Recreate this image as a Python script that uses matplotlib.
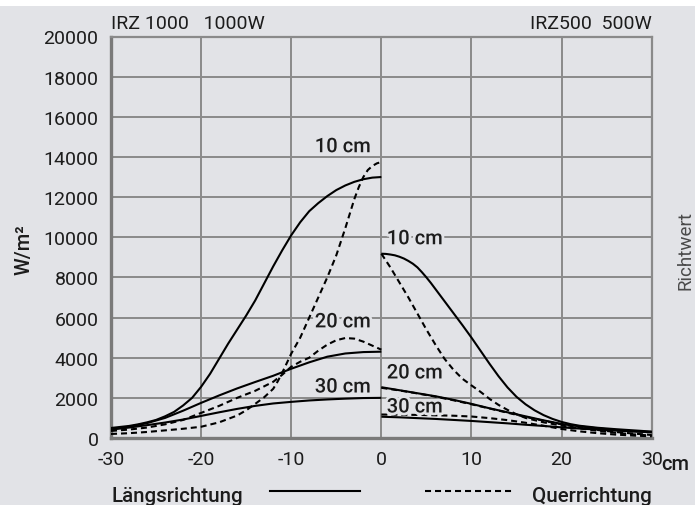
import matplotlib
matplotlib.use("Agg")
import matplotlib.pyplot as plt
import matplotlib.patheffects as pe
from matplotlib.lines import Line2D
from matplotlib.patches import Rectangle

# ---------------- data ----------------
# left half: IRZ 1000 (x from -30 to 0)
x_l10_s = [-30, -28, -27, -26, -25, -24, -23, -22, -21, -20, -19, -18, -17, -16, -15, -14, -13, -12, -11, -10, -9, -8, -7, -6, -5, -4, -3, -2, -1, 0]
y_l10_s = [500, 600, 680, 780, 900, 1080, 1300, 1620, 2000, 2550, 3200, 3950, 4700, 5400, 6100, 6850, 7700, 8550, 9350, 10100, 10750, 11300, 11700, 12050, 12350, 12580, 12760, 12890, 12970, 13000]

x_l10_d = [-30, -28, -26, -24, -22, -20, -18, -16, -15, -14, -13, -12, -11.5, -11, -10, -9, -8, -7, -6, -5, -4, -3, -2.5, -2, -1.5, -1, -0.5, 0]
y_l10_d = [200, 240, 300, 380, 460, 560, 780, 1120, 1380, 1700, 2030, 2450, 2820, 3250, 4200, 5000, 6000, 7000, 8000, 9100, 10450, 11900, 12500, 13000, 13350, 13550, 13680, 13750]

x_l20_s = [-30, -28, -26, -24, -22, -20, -18, -16, -14, -12, -10, -8, -6, -4, -2, 0]
y_l20_s = [450, 560, 740, 1000, 1360, 1750, 2120, 2470, 2790, 3100, 3450, 3770, 4050, 4210, 4280, 4300]

x_l20_d = [-30, -28, -26, -24, -22, -20, -18, -16, -14, -12, -11, -10, -9, -8, -7, -6, -5, -4, -3, -2, -1, 0]
y_l20_d = [350, 420, 520, 680, 900, 1250, 1600, 2000, 2350, 2800, 3150, 3550, 3800, 4000, 4350, 4650, 4870, 4980, 4950, 4800, 4600, 4400]

x_l30_s = [-30, -28, -26, -24, -22, -20, -18, -16, -14, -12, -10, -8, -6, -4, -2, 0]
y_l30_s = [420, 520, 640, 770, 920, 1100, 1280, 1450, 1600, 1720, 1800, 1870, 1920, 1960, 1990, 2000]

# right half: IRZ 500 (x from 0 to 30)
x_r10_s = [0, 0.5, 1, 1.5, 2, 2.5, 3, 3.5, 4, 4.5, 5, 5.5, 6, 7, 8, 9, 10, 11, 12, 13, 14, 15, 16, 17, 18, 19, 20, 21, 22, 24, 26, 28, 30]
y_r10_s = [9180, 9170, 9140, 9100, 9030, 8940, 8820, 8680, 8500, 8260, 8000, 7720, 7420, 6820, 6220, 5620, 5000, 4350, 3700, 3080, 2520, 2050, 1680, 1380, 1140, 950, 800, 690, 610, 510, 440, 380, 320]

x_r10_d = [0, 1, 2, 3, 4, 5, 6, 7, 8, 9, 10, 11, 12, 13, 14, 15, 16, 18, 20, 22, 24, 26, 28, 30]
y_r10_d = [9180, 8500, 7750, 7000, 6200, 5400, 4650, 3950, 3400, 2950, 2620, 2300, 1950, 1650, 1400, 1180, 1000, 780, 620, 480, 360, 260, 180, 120]

x_r20_s = [0, 2, 4, 6, 8, 10, 12, 14, 16, 18, 20, 22, 24, 26, 28, 30]
y_r20_s = [2530, 2380, 2230, 2080, 1900, 1700, 1480, 1280, 1080, 880, 700, 580, 480, 400, 330, 280]

x_r20_d = [0, 2, 4, 6, 8, 10, 12, 14, 16, 18, 20, 22, 24, 26, 28, 30]
y_r20_d = [2500, 2370, 2220, 2060, 1880, 1680, 1470, 1260, 1050, 860, 680, 520, 400, 300, 220, 150]

x_r30_s = [0, 2, 4, 6, 8, 10, 12, 14, 16, 18, 20, 22, 24, 26, 28, 30]
y_r30_s = [1060, 1030, 990, 950, 900, 850, 790, 730, 660, 600, 530, 470, 420, 370, 330, 300]

x_r30_d = [0, 2, 4, 6, 8, 10, 12, 14, 16, 18, 20, 22, 24, 26, 28, 30]
y_r30_d = [1170, 1160, 1150, 1130, 1110, 1070, 990, 890, 760, 610, 450, 330, 240, 170, 120, 85]

x_ticks = [-30, -20, -10, 0, 10, 20, 30]
x_ticklabels = ["-30", "-20", "-10", "0", "10", "20", "30"]
y_ticks = list(range(0, 20001, 2000))
y_ticklabels = [str(v) for v in y_ticks]

curve_labels = ["10 cm", "20 cm", "30 cm", "10 cm", "20 cm", "30 cm"]

# ---------------- style ----------------
plt.rcParams['font.family'] = ['Roboto', 'DejaVu Sans']
bg = '#e2e3e7'
grid_c = '#8a8a8a'
txt_c = '#1c1c1c'
W, H = 695, 506

fig = plt.figure(figsize=(6.95, 5.06), dpi=100, facecolor=bg)
fig.add_artist(Rectangle((0, 1 - 7 / H), 1, 7 / H, transform=fig.transFigure,
                         facecolor='white', edgecolor='none', zorder=-5))

ax = fig.add_axes([111 / W, 1 - 439 / H, (651.7 - 111) / W, (439 - 37.5) / H])
ax.set_facecolor(bg)
ax.set_xlim(-30, 30)
ax.set_ylim(0, 20000)
ax.set_xticks(x_ticks)
ax.set_xticklabels(x_ticklabels)
ax.set_yticks(y_ticks)
ax.set_yticklabels(y_ticklabels)
ax.tick_params(length=0, labelsize=14, labelcolor=txt_c)
ax.tick_params(axis='x', pad=9)
ax.tick_params(axis='y', pad=9)
ax.grid(True, color=grid_c, linewidth=1.4)
ax.set_axisbelow(True)
for side in ['top', 'right']:
    ax.spines[side].set_color(grid_c)
    ax.spines[side].set_linewidth(1.6)
for side in ['left', 'bottom']:
    ax.spines[side].set_color('#7a7a7a')
    ax.spines[side].set_linewidth(2.4)

lw = 1.5
dash = (2.9, 1.9)
solid_series = [(x_l10_s, y_l10_s), (x_l20_s, y_l20_s), (x_l30_s, y_l30_s),
                (x_r10_s, y_r10_s), (x_r20_s, y_r20_s), (x_r30_s, y_r30_s)]
dashed_series = [(x_l10_d, y_l10_d), (x_l20_d, y_l20_d),
                 (x_r10_d, y_r10_d), (x_r20_d, y_r20_d), (x_r30_d, y_r30_d)]
for xs, ys in solid_series:
    ax.plot(xs, ys, color='black', linewidth=lw, solid_capstyle='butt',
            solid_joinstyle='round', zorder=3)
for xs, ys in dashed_series:
    ax.plot(xs, ys, color='black', linewidth=lw, dashes=dash, zorder=3)

halo = [pe.withStroke(linewidth=4, foreground=bg)]
label_pos = [(-1.2, 14510, 'right'), (-1.2, 5785, 'right'), (-1.2, 2540, 'right'),
             (0.6, 9925, 'left'), (0.6, 3240, 'left'), (0.6, 1545, 'left')]
for text, (lx, ly, ha) in zip(curve_labels, label_pos):
    ax.text(lx, ly, text, ha=ha, va='center', fontsize=14.5, fontweight='medium',
            color=txt_c, path_effects=halo, zorder=5)

# headers and axis texts
fig.text(111 / W, 1 - 24 / H, "IRZ 1000   1000W", ha='left', va='center', fontsize=14, color=txt_c)
fig.text(652 / W, 1 - 24 / H, "IRZ500  500W", ha='right', va='center', fontsize=14, color=txt_c)
fig.text(24 / W, 1 - 250 / H, "W/m²", rotation=90, ha='center', va='center', fontsize=14.5,
         fontweight='medium', color=txt_c)
fig.text(686 / W, 1 - 250 / H, "Richtwert", rotation=90, ha='center', va='center', fontsize=13.5,
         color='#4a4a4a')
fig.text(661 / W, 1 - 465 / H, "cm", ha='left', va='center', fontsize=14.5, fontweight='medium', color=txt_c)

# bottom legend
fig.text(112 / W, 1 - 497 / H, "Längsrichtung", ha='left', va='center', fontsize=14.8,
         fontweight='medium', color=txt_c)
fig.text(652 / W, 1 - 497 / H, "Querrichtung", ha='right', va='center', fontsize=14.8,
         fontweight='medium', color=txt_c)
fig.add_artist(Line2D([270 / W, 360 / W], [1 - 492 / H, 1 - 492 / H], color='black',
                      linewidth=lw, transform=fig.transFigure))
fig.add_artist(Line2D([425 / W, 514 / W], [1 - 492 / H, 1 - 492 / H], color='black',
                      linewidth=lw, dashes=dash, transform=fig.transFigure))

fig.savefig("out.png", dpi=100, facecolor=bg)
